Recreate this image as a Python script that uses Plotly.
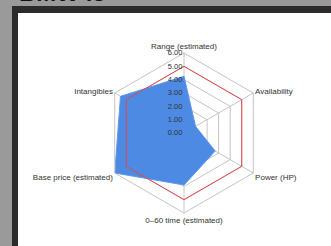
import plotly.graph_objects as go

categories = ["Range (estimated)", "Availability", "Power (HP)",
              "0–60 time (estimated)", "Base price (estimated)", "Intangibles"]
bmw_values = [4.25, 1.0, 2.7, 3.9, 6.0, 5.5]
reference_values = [5, 5, 5, 5, 5, 5]
tick_vals = [0, 1, 2, 3, 4, 5, 6]
tick_text = ["0.00", "1.00", "2.00", "3.00", "4.00", "5.00", "6.00"]
title_text = "BMW i3"

W, H = 331, 246
def px(x): return x / W
def py(y): return 1 - y / H

fig = go.Figure()
fig.add_trace(go.Scatterpolar(
    r=bmw_values + bmw_values[:1], theta=categories + categories[:1],
    mode="lines", fill="toself", fillcolor="#4d8ae4",
    line=dict(color="#5e97ea", width=1), name="BMW i3"))
fig.add_trace(go.Scatterpolar(
    r=reference_values + reference_values[:1], theta=categories + categories[:1],
    mode="lines", line=dict(color="#e0474a", width=1), name="Reference"))

cx, cy, R = 184, 133, 80
fig.update_layout(
    width=W, height=H, margin=dict(l=0, r=0, t=0, b=0),
    paper_bgcolor="#9a9a9a", showlegend=False,
    font=dict(family="Liberation Sans", size=8, color="#333333"),
    polar=dict(
        domain=dict(x=[px(cx - R), px(cx + R)], y=[py(cy + R), py(cy - R)]),
        bgcolor="rgba(0,0,0,0)",
        gridshape="linear",
        angularaxis=dict(direction="clockwise", rotation=90,
                         linecolor="#c4c4c4", gridcolor="#c4c4c4",
                         tickfont=dict(size=8, color="#333333"), ticks=""),
        radialaxis=dict(range=[0, 6], tickvals=tick_vals, ticktext=tick_text,
                        angle=90, tickangle=90, showline=False,
                        gridcolor="#c4c4c4", ticks="",
                        tickfont=dict(size=7.5, color="#333333"),
                        side="counterclockwise"),
    ),
    shapes=[
        dict(type="rect", xref="paper", yref="paper", layer="below",
             x0=px(12), x1=px(340), y0=py(260), y1=py(6),
             fillcolor="#2c2c2c", line=dict(width=0)),
        dict(type="rect", xref="paper", yref="paper", layer="below",
             x0=px(18), x1=px(340), y0=py(260), y1=py(13),
             fillcolor="#ffffff", line=dict(width=0)),
    ],
    annotations=[dict(text="<b>" + title_text + "</b>", xref="paper", yref="paper",
                      x=px(17), y=py(8), xanchor="left", yanchor="bottom",
                      showarrow=False, font=dict(size=24, color="#111111"))],
)
fig.write_html("out.html", config={"displayModeBar": False},
               post_script="document.body.style.margin='0';document.body.style.background='#9a9a9a';")
